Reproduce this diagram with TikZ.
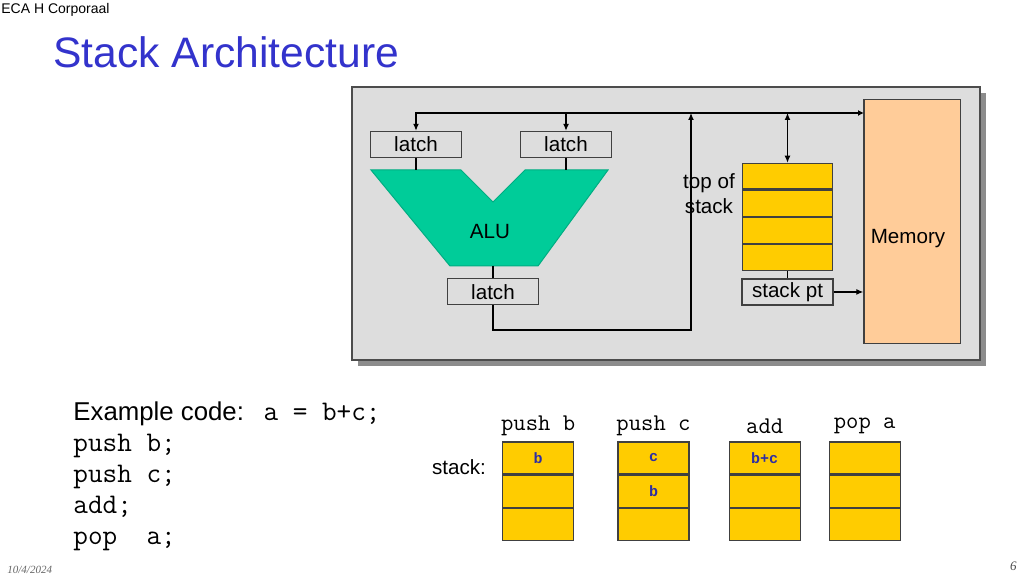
\documentclass[tikz,border=0pt]{standalone}
\usepackage{fontspec}
\setmainfont{Liberation Sans}
\newfontfamily\cellfont{Liberation Mono}
\newfontfamily\datefont{Liberation Serif}
\usepackage{tikz}
\usetikzlibrary{arrows.meta, positioning}

\definecolor{panelgrey}{HTML}{DDDDDD}
\definecolor{shadowgrey}{HTML}{8C8C8C}
\definecolor{alugreen}{HTML}{00CC99}
\definecolor{stackyellow}{HTML}{FFCC00}
\definecolor{mempeach}{HTML}{FFCC99}
\definecolor{titleblue}{HTML}{3333CC}
\definecolor{valblue}{HTML}{2E2EA3}

\begin{document}
\begin{tikzpicture}[x=0.5pt, y=-0.5pt,
    wire/.style={line width=0.6pt},
    tip/.style={-{Latex[length=3.5pt,width=3pt]}},
    box/.style={draw=black!75, line width=0.7pt, inner sep=0pt, font=\fontsize{10.3}{12.5}\selectfont},
    latchbox/.style={box, fill=panelgrey, minimum width=45.5pt, minimum height=13pt},
    toscell/.style={box, fill=stackyellow, minimum width=45pt, minimum height=12.85pt},
    cell/.style={box, fill=stackyellow, minimum width=35.5pt, minimum height=16pt, text=valblue, font=\cellfont\bfseries\fontsize{7.5}{8}\selectfont},
    oplabel/.style={inner sep=0pt, font=\ttfamily\fontsize{12}{14}\selectfont},
    plain/.style={inner sep=0pt, font=\fontsize{10.3}{12.5}\selectfont}
  ]
    \fill[white] (0,0) rectangle (1024,576);
    \useasboundingbox (0,0) rectangle (1024,576);

    % header
    \node[anchor=west, inner sep=0pt, font=\fontsize{7}{8}\selectfont] (author) at (1,10) {ECA H Corporaal};
    \node[anchor=west, inner sep=0pt, text=titleblue, font=\fontsize{21.3}{25}\selectfont] (title) at (53,52) {Stack Architecture};

    % panel with shadow
    \fill[shadowgrey] (358,93) rectangle (986,366);
    \draw[fill=panelgrey, draw=black!70, line width=0.6pt] (352,87) rectangle (980,360);

    \node[box, fill=mempeach, minimum width=48.3pt, minimum height=122pt] (mem) at (912.3,221.3) {};
    \node[plain] (memlbl) at (908,239) {Memory};

    % ALU and its latches
    \node[latchbox] (latchA) at (416,144.5) {latch};
    \node[latchbox] (latchB) at (566,144.5) {latch};
    \node[latchbox] (latchC) at (493,291.7) {latch};
    \draw[fill=alugreen, draw=alugreen!85!black, line width=0.5pt] (371,170) -- (461,170) -- (493,202) -- (525,170) -- (608,170) -- (538,266) -- (450,266) -- cycle;
    \node[plain] (alu) at (490,232) {ALU};
    \coordinate (aluA) at (416,170);
    \coordinate (aluB) at (566,170);
    \coordinate (aluOut) at (493,266);

    % stack
    \node[toscell] (tos1) at (787.5,176.3) {};
    \foreach \i [count=\j from 1] in {2,3,4}
        \node[toscell, below=0pt of tos\j] (tos\i) {};
    \node[latchbox] (sp) at (787.5,292) {stack pt};
    \node[plain, align=center] (toslabel) at (709,194) {top of\\stack};

    % wires
    \coordinate (busM) at (864,113);
    \coordinate (ret) at (691,330);
    \draw[wire, {Latex[length=3.5pt,width=3pt]}-{Latex[length=3pt,width=3pt]}] (latchA) |- (busM);
    \draw[wire, tip] (busM -| latchB) -- (latchB);
    \draw[wire] (latchA) -- (aluA);
    \draw[wire] (latchB) -- (aluB);
    \draw[wire] (aluOut) -- (latchC);
    \draw[wire, tip] (latchC) |- (ret) -- (ret |- busM);
    \draw[wire, {Latex[length=3.5pt,width=3pt]}-{Latex[length=3.5pt,width=3pt]}] (busM -| tos1) -- (tos1);
    \draw[wire] (tos4) -- (sp);
    \draw[wire, tip] (sp) -- (sp -| mem.west);

    % example code
    \node[anchor=north west, align=left, inner sep=0pt, font=\ttfamily\fontsize{14.2}{15.5}\selectfont] (code) at (73,401)
        {{\rmfamily\fontsize{12.9}{15.5}\selectfont Example code:} a = b+c;\\push b;\\push c;\\add;\\pop~~a;};

    % stack snapshots
    \node[plain] (stacklbl) at (459,467) {stack:};
    \foreach \x/\op/\va/\vb [count=\k] in {538.2/push b/b/, 653.5/push c/c/b, 764.7/add/b+c/, 864.7/pop a//} {
        \node[cell] (cellA\k) at (\x,458) {\va};
        \node[cell, below=0pt of cellA\k] (cellB\k) {\vb};
        \node[cell, below=0pt of cellB\k] (cellC\k) {};
        \node[oplabel] (op\k) at (\x,426) {\op};
    }

    % footer
    \node[anchor=west, inner sep=0pt, text=black!60, font=\datefont\itshape\fontsize{5.5}{6}\selectfont] (date) at (7,570) {10/4/2024};
    \node[anchor=east, inner sep=0pt, text=black!70, font=\datefont\itshape\fontsize{6.5}{7}\selectfont] (page) at (1017,566) {6};
\end{tikzpicture}
\end{document}
